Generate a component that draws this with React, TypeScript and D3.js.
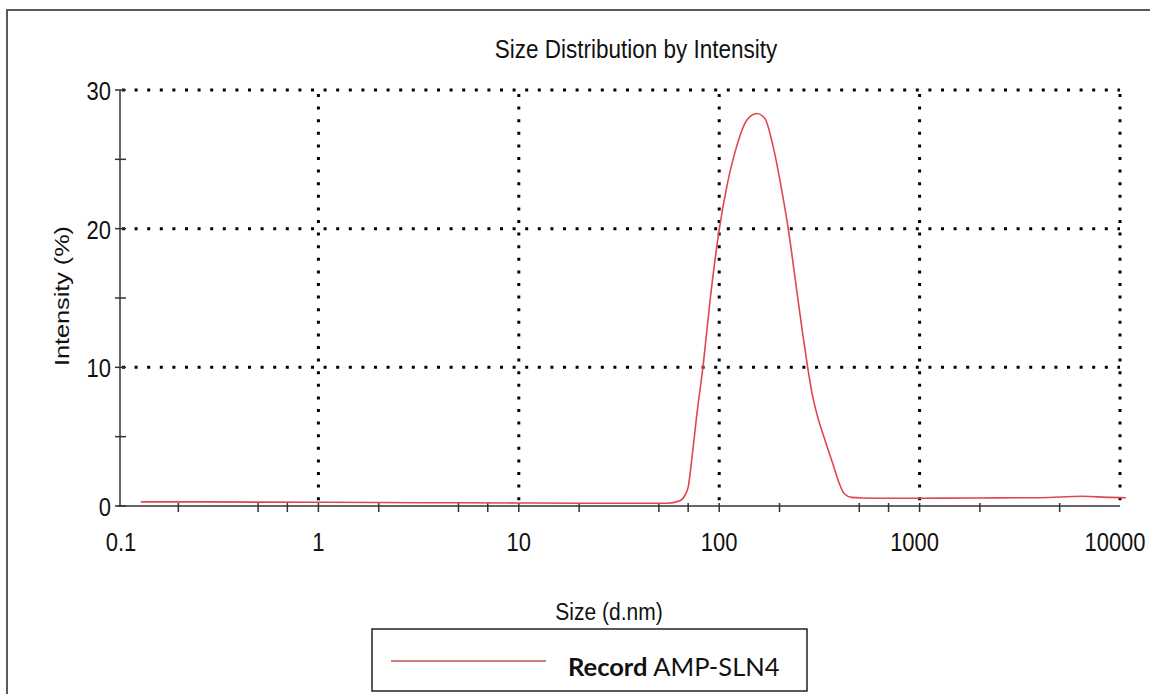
import React, { useEffect, useRef } from 'react';
import * as d3 from 'd3';

// Data
const sizes = [0.13, 0.2, 0.5, 1, 2, 5, 10, 20, 40, 55, 63.7, 67.5, 70.1, 72.9, 77.2, 83.4, 90, 100.2, 109, 122, 137, 154, 169, 186, 205, 221, 245, 260, 275, 290, 309, 337, 368, 398, 420, 458, 520, 700, 1000, 2000, 4000, 6500, 9000, 10700];
const intensity = [0.3, 0.3, 0.28, 0.27, 0.25, 0.23, 0.22, 0.2, 0.2, 0.2, 0.38, 0.79, 1.4, 3.3, 6.5, 10.3, 14.8, 20, 23, 25.9, 27.8, 28.3, 27.95, 25.9, 22.8, 20, 15.3, 12.6, 10.2, 8.2, 6.5, 4.76, 3.1, 1.6, 0.9, 0.62, 0.58, 0.56, 0.56, 0.58, 0.6, 0.7, 0.62, 0.6];
const xTickLabels = [0.1, 1, 10, 100, 1000, 10000];
const xMinorTicks = [0.2, 0.5, 0.7, 2, 5, 7, 20, 50, 70, 200, 500, 700, 2000, 5000];
const yTickLabels = [0, 10, 20, 30];
const yMinorTicks = [5, 15, 25];
const seriesName = 'AMP-SLN4';

const App = () => {
  const chartRef = useRef<SVGSVGElement>(null);

  useEffect(() => {
    const svg = d3.select(chartRef.current);
    svg.selectAll('*').remove();

    const font = '"Liberation Sans", Arial, sans-serif';

    const x = d3.scaleLog().domain([0.1, 10000]).range([118, 1120]);
    const y = d3.scaleLinear().domain([0, 30]).range([506, 90]);

    // Outer frame (top + left edges only visible)
    svg.append('path')
      .attr('d', 'M7,694 L7,10 L1150,10')
      .attr('fill', 'none')
      .attr('stroke', '#5a5a5a')
      .attr('stroke-width', 2);

    // Grid
    const grid = svg.append('g')
      .attr('stroke', '#000')
      .attr('stroke-width', 3)
      .attr('stroke-dasharray', '3,9.6');

    grid.selectAll('line.h')
      .data(yTickLabels.filter(d => d > 0))
      .enter()
      .append('line')
      .attr('x1', x(0.1) + 4)
      .attr('x2', x(10000))
      .attr('y1', d => y(d))
      .attr('y2', d => y(d));

    grid.selectAll('line.v')
      .data(xTickLabels.filter(d => d > 0.1))
      .enter()
      .append('line')
      .attr('x1', d => x(d))
      .attr('x2', d => x(d))
      .attr('y1', y(30) + 4)
      .attr('y2', y(0));

    // Axes
    const axes = svg.append('g').attr('stroke', '#333').attr('stroke-width', 1.5);
    axes.append('line')
      .attr('x1', x(0.1) + 2).attr('x2', x(0.1) + 2)
      .attr('y1', y(30)).attr('y2', y(0));
    axes.append('line')
      .attr('x1', x(0.1)).attr('x2', x(10000))
      .attr('y1', y(0)).attr('y2', y(0));

    axes.selectAll('line.yt')
      .data([...yTickLabels, ...yMinorTicks])
      .enter()
      .append('line')
      .attr('x1', x(0.1) - 3)
      .attr('x2', x(0.1) + 8)
      .attr('y1', d => y(d))
      .attr('y2', d => y(d));

    axes.selectAll('line.xt')
      .data([...xTickLabels.slice(1, 5), ...xMinorTicks])
      .enter()
      .append('line')
      .attr('x1', d => x(d))
      .attr('x2', d => x(d))
      .attr('y1', y(0) - 3)
      .attr('y2', y(0) + 6);

    // Tick labels
    svg.selectAll('text.yl')
      .data(yTickLabels)
      .enter()
      .append('text')
      .attr('transform', d => `translate(111,${y(d) + 10}) scale(1,1.2)`)
      .attr('text-anchor', 'end')
      .attr('font-family', font)
      .attr('font-size', 22)
      .attr('fill', '#111')
      .text(d => d);

    svg.selectAll('text.xl')
      .data(xTickLabels)
      .enter()
      .append('text')
      .attr('transform', d => `translate(${x(d) + (d === 0.1 ? 3 : d >= 1000 ? -5 : 0)},551) scale(1,1.2)`)
      .attr('text-anchor', 'middle')
      .attr('font-family', font)
      .attr('font-size', 22)
      .attr('fill', '#111')
      .text(d => d);

    // Title
    svg.append('text')
      .attr('transform', 'translate(636,58) scale(1,1.15)')
      .attr('text-anchor', 'middle')
      .attr('font-family', font)
      .attr('font-size', 22.5)
      .attr('fill', '#111')
      .text('Size Distribution by Intensity');

    // X Axis Label
    svg.append('text')
      .attr('transform', 'translate(609,620) scale(1,1.15)')
      .attr('text-anchor', 'middle')
      .attr('font-family', font)
      .attr('font-size', 21)
      .attr('fill', '#111')
      .text('Size (d.nm)');

    // Y Axis Label
    svg.append('text')
      .attr('transform', `translate(69,${(y(0) + y(30)) / 2 - 2}) rotate(-90) scale(1.2,1)`)
      .attr('text-anchor', 'middle')
      .attr('font-family', font)
      .attr('font-size', 21)
      .attr('fill', '#111')
      .text('Intensity (%)');

    // Curve
    const line = d3.line<number>()
      .x((d, i) => x(sizes[i]))
      .y(d => y(d))
      .curve(d3.curveMonotoneX);

    svg.append('path')
      .datum(intensity)
      .attr('d', line)
      .attr('fill', 'none')
      .attr('stroke', '#e0474c')
      .attr('stroke-width', 1.6);

    // Legend
    const legend = svg.append('g');
    legend.append('rect')
      .attr('x', 372).attr('y', 629)
      .attr('width', 435).attr('height', 62)
      .attr('fill', '#fff')
      .attr('stroke', '#222')
      .attr('stroke-width', 1.5);
    legend.append('line')
      .attr('x1', 391).attr('x2', 546)
      .attr('y1', 661).attr('y2', 661)
      .attr('stroke', '#c0504d')
      .attr('stroke-width', 1.5);
    const lt = legend.append('text')
      .attr('x', 568).attr('y', 676)
      .attr('font-family', 'Lato, "Open Sans", sans-serif')
      .attr('font-size', 25.5)
      .attr('fill', '#111');
    lt.append('tspan').attr('font-weight', 'bold').text('Record');
    lt.append('tspan').text(' ' + seriesName);
  }, []);

  return (
    <svg
      ref={chartRef}
      width={1150}
      height={694}
      style={{ position: 'absolute', left: 0, top: 0, background: '#fff' }}
    />
  );
};

export default App;
